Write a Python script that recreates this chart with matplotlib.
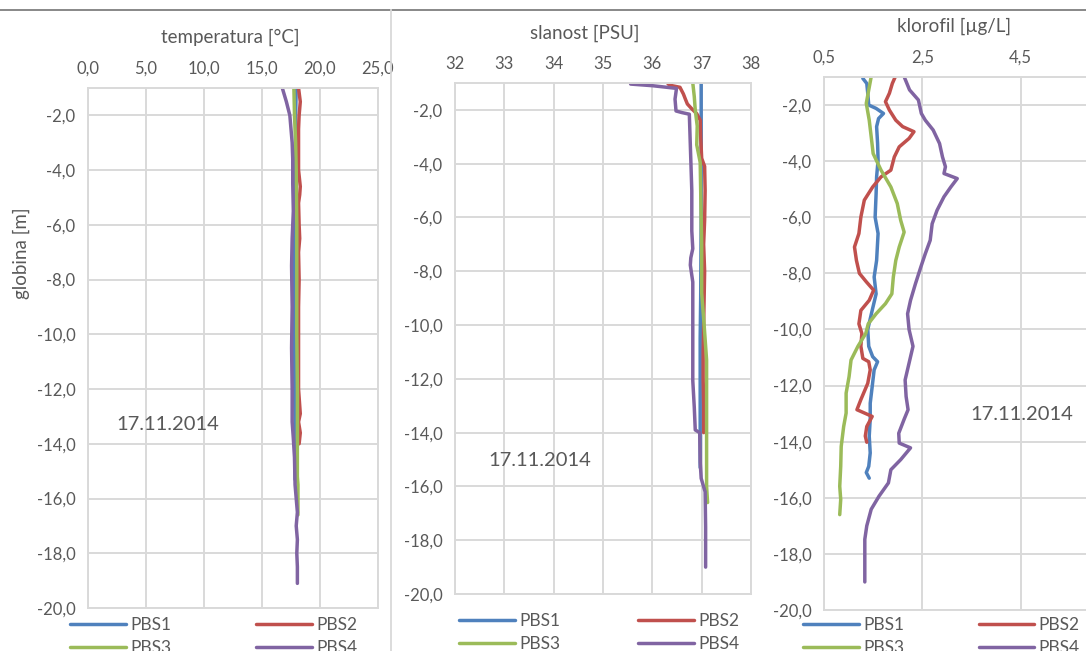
import matplotlib.pyplot as plt
from matplotlib.lines import Line2D
from matplotlib.ticker import FuncFormatter, FixedLocator

plt.rcParams['font.family'] = ['Lato', 'DejaVu Sans']

W, H = 1086, 651
postaje = ['PBS1', 'PBS2', 'PBS3', 'PBS4']
barve = ['#4F81BD', '#C0504D', '#9BBB59', '#8064A2']
datum = '17.11.2014'
siva = '#595959'
mreza = '#d9d9d9'

# temperatura [°C] po globini
temp_glob_pbs1 = [-1.0, -2.0, -3.0, -4.0, -5.0, -6.0, -7.0, -8.0, -9.0, -10.0, -11.0, -12.0, -13.0, -14.0, -15.0, -15.3]
temp_pbs1 = [17.95, 17.9, 17.9, 17.85, 17.85, 17.85, 17.8, 17.8, 17.8, 17.8, 17.8, 17.8, 17.85, 17.85, 17.85, 17.85]
temp_glob_pbs2 = [-1.0, -1.5, -2.0, -2.5, -3.0, -4.0, -4.6, -4.9, -5.2, -6.0, -6.5, -7.0, -8.0, -9.0, -10.0, -11.0, -12.0, -12.9, -13.2, -13.6, -14.0]
temp_pbs2 = [18.15, 18.3, 18.2, 18.15, 18.15, 18.15, 18.3, 18.25, 18.15, 18.2, 18.25, 18.15, 18.2, 18.15, 18.15, 18.15, 18.15, 18.3, 18.15, 18.3, 18.2]
temp_glob_pbs3 = [-1.0, -2.0, -3.0, -4.0, -6.0, -8.0, -10.0, -12.0, -14.0, -15.2, -15.5, -16.6]
temp_pbs3 = [17.75, 17.8, 17.9, 17.95, 18.0, 18.0, 18.0, 18.05, 18.05, 18.05, 18.1, 18.1]
temp_glob_pbs4 = [-1.0, -1.5, -2.0, -2.5, -3.0, -3.6, -4.5, -5.5, -6.5, -7.5, -9.0, -10.5, -12.0, -13.2, -13.8, -14.5, -15.5, -16.0, -16.5, -17.0, -17.5, -18.0, -18.5, -19.1]
temp_pbs4 = [16.75, 17.1, 17.4, 17.5, 17.6, 17.65, 17.65, 17.7, 17.6, 17.55, 17.6, 17.55, 17.6, 17.6, 17.7, 17.8, 17.85, 17.95, 18.05, 17.95, 18.05, 18.0, 18.05, 18.05]

# slanost [PSU] po globini
sal_glob_pbs1 = [-1.0, -3.0, -6.0, -9.0, -10.5, -12.0, -14.0, -15.3]
sal_pbs1 = [36.99, 36.99, 36.99, 36.98, 36.97, 36.97, 36.97, 36.97]
sal_glob_pbs2 = [-1.04, -1.1, -1.16, -1.41, -1.6, -1.78, -1.96, -2.14, -2.38, -3.0, -3.8, -4.1, -5.0, -6.1, -7.0, -8.0, -9.0, -10.0, -11.0, -12.0, -13.0, -14.0]
sal_pbs2 = [36.32, 36.4, 36.56, 36.63, 36.67, 36.71, 36.8, 36.9, 36.97, 36.98, 37.0, 37.06, 37.07, 37.06, 37.04, 37.06, 37.05, 37.04, 37.03, 37.03, 37.04, 37.04]
sal_glob_pbs3 = [-1.0, -1.5, -2.0, -2.6, -3.3, -3.95, -5.0, -6.0, -7.0, -8.8, -10.0, -11.3, -12.0, -14.0, -15.0, -16.0, -16.6]
sal_pbs3 = [36.82, 36.85, 36.87, 36.91, 36.9, 36.97, 36.98, 36.99, 37.0, 37.0, 37.05, 37.1, 37.1, 37.1, 37.1, 37.1, 37.12]
sal_glob_pbs4 = [-1.04, -1.1, -1.2, -1.6, -2.04, -2.1, -2.16, -3.3, -5.0, -6.5, -7.16, -7.5, -7.77, -8.4, -10.0, -12.07, -13.05, -13.9, -14.0, -15.1, -15.7, -16.2, -17.5, -19.0]
sal_pbs4 = [35.56, 36.0, 36.49, 36.46, 36.48, 36.6, 36.75, 36.77, 36.8, 36.8, 36.82, 36.78, 36.77, 36.82, 36.82, 36.82, 36.85, 36.87, 36.96, 36.97, 36.99, 37.07, 37.08, 37.08]

# klorofil [µg/L] po globini
klo_glob_pbs1 = [-1.05, -1.23, -1.58, -2.0, -2.12, -2.3, -2.48, -2.77, -3.37, -3.96, -4.56, -5.15, -6.0, -6.58, -7.54, -8.13, -8.73, -9.32, -10.0, -10.6, -10.97, -11.15, -11.44, -12.04, -12.63, -13.2, -13.8, -14.4, -14.88, -15.1, -15.3]
klo_pbs1 = [1.29, 1.37, 1.39, 1.41, 1.56, 1.71, 1.61, 1.57, 1.59, 1.6, 1.57, 1.56, 1.54, 1.6, 1.57, 1.52, 1.56, 1.48, 1.39, 1.41, 1.49, 1.59, 1.52, 1.48, 1.44, 1.44, 1.42, 1.44, 1.41, 1.36, 1.42]
klo_glob_pbs2 = [-0.99, -1.23, -1.58, -1.88, -2.18, -2.54, -2.77, -2.95, -3.19, -3.49, -3.85, -4.32, -4.56, -4.92, -5.39, -5.99, -6.58, -7.06, -7.54, -8.0, -8.3, -8.6, -8.96, -9.32, -9.8, -10.14, -10.6, -11.03, -11.15, -11.44, -11.92, -12.5, -12.86, -13.1, -13.46, -13.8, -14.02]
klo_pbs2 = [1.95, 1.89, 1.83, 1.75, 1.83, 1.96, 2.10, 2.33, 2.23, 2.03, 1.93, 1.86, 1.66, 1.49, 1.32, 1.25, 1.21, 1.12, 1.16, 1.22, 1.36, 1.51, 1.42, 1.25, 1.21, 1.27, 1.25, 1.29, 1.41, 1.44, 1.39, 1.25, 1.17, 1.48, 1.37, 1.34, 1.37]
klo_glob_pbs3 = [-0.99, -1.46, -1.94, -2.54, -3.13, -3.73, -4.32, -4.92, -5.51, -6.11, -6.53, -7.06, -7.54, -8.13, -8.73, -9.08, -9.44, -9.8, -10.14, -10.6, -11.09, -11.68, -12.27, -12.98, -13.46, -14.17, -14.88, -15.59, -16.06, -16.6]
klo_pbs3 = [1.46, 1.41, 1.36, 1.42, 1.46, 1.50, 1.66, 1.86, 1.99, 2.06, 2.13, 2.03, 1.96, 1.91, 1.88, 1.75, 1.56, 1.40, 1.35, 1.19, 1.05, 1.01, 0.95, 0.95, 0.90, 0.85, 0.84, 0.82, 0.84, 0.82]
klo_glob_pbs4 = [-0.99, -1.46, -1.82, -2.3, -2.54, -2.89, -3.37, -3.85, -4.2, -4.44, -4.62, -4.92, -5.27, -5.75, -6.23, -6.82, -7.3, -7.77, -8.37, -8.96, -9.44, -10.0, -10.6, -11.2, -11.8, -12.39, -12.86, -13.2, -13.7, -14.05, -14.22, -14.64, -15.0, -15.47, -15.94, -16.41, -17.0, -17.48, -18.19, -19.0]
klo_pbs4 = [2.13, 2.24, 2.42, 2.48, 2.56, 2.72, 2.85, 2.91, 2.97, 2.94, 3.21, 3.08, 2.94, 2.80, 2.70, 2.66, 2.56, 2.47, 2.36, 2.26, 2.20, 2.23, 2.31, 2.23, 2.15, 2.17, 2.21, 2.13, 2.02, 2.03, 2.26, 2.06, 1.86, 1.81, 1.62, 1.46, 1.37, 1.33, 1.33, 1.33]

temperatura = [(temp_glob_pbs1, temp_pbs1), (temp_glob_pbs2, temp_pbs2), (temp_glob_pbs3, temp_pbs3), (temp_glob_pbs4, temp_pbs4)]
slanost = [(sal_glob_pbs1, sal_pbs1), (sal_glob_pbs2, sal_pbs2), (sal_glob_pbs3, sal_pbs3), (sal_glob_pbs4, sal_pbs4)]
klorofil = [(klo_glob_pbs1, klo_pbs1), (klo_glob_pbs2, klo_pbs2), (klo_glob_pbs3, klo_pbs3), (klo_glob_pbs4, klo_pbs4)]

temp_oznake = [0, 5, 10, 15, 20, 25]
sal_oznake = [32, 33, 34, 35, 36, 37, 38]
klo_oznake = [0.5, 2.5, 4.5]
glob_oznake = [-2, -4, -6, -8, -10, -12, -14, -16, -18, -20]

fig = plt.figure(figsize=(W / 100, H / 100), dpi=100)


def os_px(l, t, r, b):
    # axes polozaj v pikslih (levo, zgoraj, desno, spodaj)
    return fig.add_axes([l / W, 1 - b / H, (r - l) / W, (b - t) / H])


def besedilo(x, y, s, **kw):
    # besedilo na sliki, polozaj v pikslih od zgornjega levega kota
    fig.text(x / W, 1 - y / H, s, ha='center', va='center', color=siva, **kw)


vejica = FuncFormatter(lambda v, p: f'{v:.1f}'.replace('.', ','))
cela = FuncFormatter(lambda v, p: f'{v:.0f}')


def graf(ax, podatki, xlim, xoznake, xfmt, naslov, naslov_xy, datum_xy, leg_xy, leg_razmik):
    for (glob, vred), c, ime in zip(podatki, barve, postaje):
        ax.plot(vred, glob, color=c, lw=2.5, label=ime, solid_capstyle='round',
                solid_joinstyle='round')
    ax.set_xlim(*xlim)
    ax.set_ylim(-20, -1)
    ax.xaxis.set_major_locator(FixedLocator(xoznake))
    ax.xaxis.set_major_formatter(xfmt)
    ax.set_yticks(glob_oznake)
    ax.yaxis.set_major_formatter(vejica)
    ax.xaxis.tick_top()
    ax.tick_params(length=0, labelsize=12, colors=siva)
    ax.tick_params(axis='x', pad=8)
    ax.tick_params(axis='y', pad=9)
    ax.grid(True, color=mreza, lw=1.4)
    ax.set_axisbelow(True)
    for s in ax.spines.values():
        s.set_color(mreza)
        s.set_linewidth(1.4)
    besedilo(*naslov_xy, naslov, fontsize=13.5)
    besedilo(*datum_xy, datum, fontsize=14.5)
    h, lab = ax.get_legend_handles_labels()
    red = [0, 2, 1, 3]
    ax.legend([h[i] for i in red], [lab[i] for i in red], ncol=2, loc='upper left',
              bbox_to_anchor=(leg_xy[0] / W, 1 - leg_xy[1] / H), bbox_transform=fig.transFigure,
              frameon=False, borderpad=0, borderaxespad=0, fontsize=12.5, labelcolor=siva,
              handlelength=3.2, handletextpad=0.25, columnspacing=leg_razmik, labelspacing=0.4)


ax1 = os_px(88, 88, 378, 608)
graf(ax1, temperatura, (0, 25), temp_oznake, vejica, 'temperatura [°C]', (230, 37), (168, 425), (70, 617), 4.9)
besedilo(21, 253, 'globina [m]', fontsize=13.5, rotation=90)

ax2 = os_px(455, 83, 751, 594)
graf(ax2, slanost, (32, 38), sal_oznake, cela, 'slanost [PSU]', (585, 33), (540, 461), (459, 613), 4.5)

ax3 = os_px(824, 77, 1119, 610)
graf(ax3, klorofil, (0.5, 6.5), klo_oznake, vejica, 'klorofil [µg/L]', (954, 26), (1022, 415), (803, 617), 4.3)

# okvirji med grafi
fig.add_artist(Line2D([0, 1], [1 - 9.5 / H] * 2, color='#7f7f7f', lw=1.3, transform=fig.transFigure))
fig.add_artist(Line2D([391 / W] * 2, [0, 1 - 10 / H], color=mreza, lw=1.3, transform=fig.transFigure))

fig.savefig('out.png', dpi=100)
